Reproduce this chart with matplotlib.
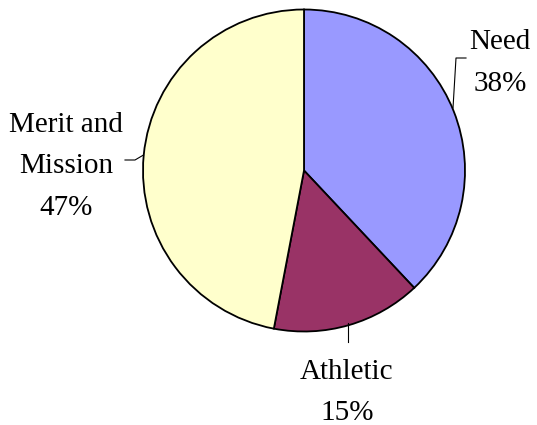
import matplotlib
matplotlib.use("Agg")
import matplotlib.pyplot as plt

# Share of aid by category
categories = ["Need", "Athletic", "Merit and\nMission"]
shares = [38, 15, 47]
colors = ["#9999FF", "#993366", "#FFFFCC"]

W, H = 537, 425
fig = plt.figure(figsize=(W / 100, H / 100), dpi=100)
ax = fig.add_axes([0, 0, 1, 1])
ax.set_xlim(0, W)
ax.set_ylim(0, H)
ax.axis("off")


def fy(y):
    """Convert a top-down pixel row to axis y."""
    return H - y


cx, cy, r = 304, 170.5, 161
ax.pie(shares, colors=colors, startangle=90, counterclock=False,
       center=(cx, fy(cy)), radius=r, frame=False,
       wedgeprops=dict(edgecolor="black", linewidth=1.3))
ax.set_xlim(0, W)
ax.set_ylim(0, H)
ax.set_aspect("auto")

font = dict(family="Liberation Serif", fontsize=21, color="black",
            ha="center", va="baseline")

# Label blocks: (x center, first baseline, line spacing)
label_pos = [(500, 49, 42), (347, 379, 40.5), (66, 131.5, 41.7)]
for name, val, (x, y0, dy) in zip(categories, shares, label_pos):
    lines = name.split("\n") + [f"{val}%"]
    for i, line in enumerate(lines):
        ax.text(x, fy(y0 + i * dy), line, **font)

# Leader lines
leaders = [
    [(466, 58), (456, 58), (453, 108)],
    [(348, 323), (348, 342)],
    [(125, 160), (135, 160), (143.5, 155)],
]
for pts in leaders:
    xs = [p[0] for p in pts]
    ys = [fy(p[1]) for p in pts]
    ax.plot(xs, ys, color="black", linewidth=0.8)

fig.savefig("out.png", dpi=100)
